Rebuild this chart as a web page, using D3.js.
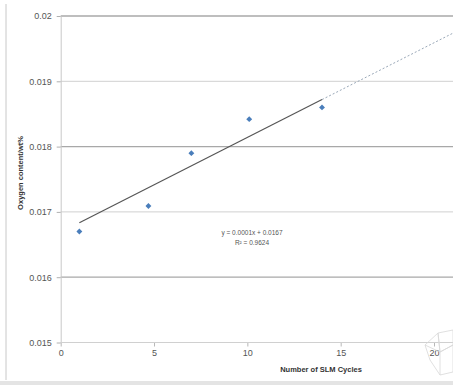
<!DOCTYPE html>
<html>
<head>
<meta charset="utf-8">
<script src="https://cdn.jsdelivr.net/npm/d3@7"></script>
<style>
  body { margin: 0; background: #fff; }
  text { font-family: "Liberation Sans", Arial, sans-serif; }
</style>
</head>
<body>
<div id="chart"></div>
<script>
// Data
const cycles = [1, 4.7, 7, 10.1, 14];
const oxygen = [0.0167, 0.01709, 0.0179, 0.01842, 0.0186];
const xTicks = [0, 5, 10, 15, 20];
const yTicks = [0.015, 0.016, 0.017, 0.018, 0.019, 0.02];
// trendline as drawn (label shows rounded coefficients)
const trendSlope = 0.000145;
const trendIntercept = 0.01669;
const trendForwardTo = 22;
const eqLines = ['y = 0.0001x + 0.0167', 'R\u00b2 = 0.9624'];

const W = 453, H = 385;

const svg = d3.select('#chart').append('svg')
    .attr('width', W)
    .attr('height', H);

// Scales
const x = d3.scaleLinear().domain([0, 20]).range([60.7, 434]);
const y = d3.scaleLinear().domain([0.015, 0.02]).range([342.5, 16]);

// frame bits
svg.append('line')
    .attr('x1', 6).attr('x2', 6).attr('y1', 4).attr('y2', 380)
    .attr('stroke', '#c8c8c8');
svg.append('rect')
    .attr('x', 0).attr('y', 381).attr('width', W).attr('height', 4)
    .attr('fill', '#e4e4e4');

// Gridlines (alternating tone like the scan)
svg.append('g')
    .selectAll('line')
    .data(yTicks.slice(1))
    .enter().append('line')
    .attr('x1', x(0)).attr('x2', W)
    .attr('y1', d => y(d)).attr('y2', d => y(d))
    .attr('stroke', (d, i) => i % 2 === 0 ? '#a8a8a8' : '#d0d0d0')
    .attr('stroke-width', (d, i) => i % 2 === 0 ? 1.3 : 1);

// Y axis
const yAxis = svg.append('g')
    .attr('transform', 'translate(' + x(0) + ',0)')
    .call(d3.axisLeft(y).tickValues(yTicks).tickSize(4).tickSizeOuter(0)
        .tickFormat(d => d3.format('.3~f')(d)));
yAxis.select('.domain').attr('stroke', '#c8c8c8');
yAxis.selectAll('.tick line').attr('stroke', '#b0b0b0');
yAxis.selectAll('text')
    .attr('fill', '#555').style('font-size', '9px').attr('x', -9);

// X axis
const xAxis = svg.append('g')
    .attr('transform', 'translate(0,' + y(0.015) + ')')
    .call(d3.axisBottom(x).tickValues(xTicks).tickSize(4).tickSizeOuter(0));
xAxis.select('.domain').remove();
xAxis.append('line')
    .attr('x1', x(0)).attr('x2', W)
    .attr('stroke', '#d0d0d0');
xAxis.selectAll('.tick line').attr('stroke', '#b8b8b8');
xAxis.selectAll('text')
    .attr('fill', '#555').style('font-size', '9px').attr('y', 7);

// Axis titles
svg.append('text')
    .attr('transform', 'translate(23,173) rotate(-90)')
    .attr('text-anchor', 'middle')
    .attr('fill', '#333')
    .style('font-size', '7.5px')
    .style('font-weight', 'bold')
    .text('Oxygen content/wt%');

svg.append('text')
    .attr('x', 321).attr('y', 372)
    .attr('text-anchor', 'middle')
    .attr('fill', '#333')
    .style('font-size', '7.5px')
    .style('font-weight', 'bold')
    .text('Number of SLM Cycles');

// Trendline: fitted part and forward forecast
const xMin = d3.min(cycles), xMax = d3.max(cycles);
const trend = d3.line()
    .x(d => x(d))
    .y(d => y(trendIntercept + trendSlope * d));

svg.append('path')
    .datum([xMax, trendForwardTo])
    .attr('fill', 'none')
    .attr('stroke', '#9aa8b8')
    .attr('stroke-width', 1)
    .attr('stroke-dasharray', '2,2')
    .attr('d', trend);

svg.append('path')
    .datum([xMin, xMax])
    .attr('fill', 'none')
    .attr('stroke', '#555')
    .attr('stroke-width', 1.2)
    .attr('d', trend);

// Diamond markers
const data = cycles.map((c, i) => ({ c: c, o: oxygen[i] }));
svg.selectAll('.pt')
    .data(data)
    .enter().append('path')
    .attr('class', 'pt')
    .attr('transform', d => 'translate(' + x(d.c) + ',' + y(d.o) + ')')
    .attr('d', d3.symbol().type(d3.symbolDiamond2).size(22))
    .attr('fill', '#4a7ebb');

// Equation label
svg.append('g')
    .selectAll('text')
    .data(eqLines)
    .enter().append('text')
    .attr('x', 252)
    .attr('y', (d, i) => 235 + i * 9.5)
    .attr('text-anchor', 'middle')
    .attr('fill', '#555')
    .style('font-size', '6.5px')
    .text(d => d);

// faint watermark sketch in bottom right corner
const wm = [[425, 345], [438, 333], [453, 330], [453, 372], [440, 375], [430, 360], [425, 345],
            [440, 352], [453, 345], [440, 352], [438, 333], [440, 352], [440, 375]];
svg.append('path')
    .datum(wm)
    .attr('fill', 'none')
    .attr('stroke', '#d8d8d8')
    .attr('stroke-width', 0.8)
    .attr('d', d3.line());
</script>
</body>
</html>
